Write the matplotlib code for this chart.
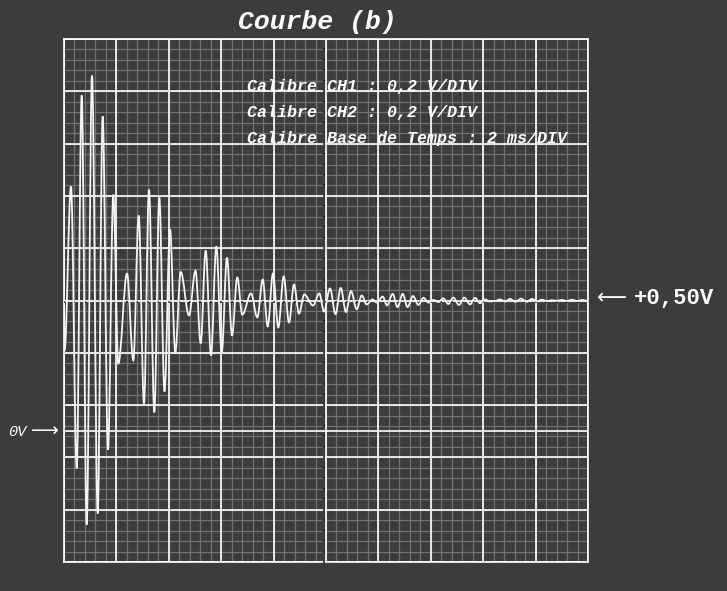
import numpy as np
import matplotlib
matplotlib.use("Agg")
import matplotlib.pyplot as plt
from matplotlib.path import Path
from matplotlib.patches import PathPatch

# turning points of the trace (time in ms, voltage in V)
t_ms = [0.02, 0.267, 0.485, 0.676, 0.866, 1.069, 1.286, 1.477, 1.679, 1.882,
        2.073, 2.405, 2.645, 2.851, 3.053, 3.244, 3.447, 3.637, 3.836, 4.046,
        4.248, 4.454, 4.771, 5.019, 5.218, 5.408, 5.611, 5.813, 6.019, 6.221,
        6.412, 6.615, 6.805, 7.137, 7.378, 7.584, 7.775, 7.977, 8.179, 8.385,
        8.588, 8.779, 8.969, 9.172, 9.504, 9.744, 9.924, 10.153, 10.363, 10.561,
        10.763, 10.954, 11.172, 11.363, 11.553, 11.775, 11.947, 12.164, 12.328, 12.546,
        12.729, 12.927, 13.111, 13.321, 13.523, 13.721, 13.912, 14.103, 14.294, 14.477,
        14.668, 14.859, 15.076, 15.279, 15.496, 15.687, 15.878, 16.069, 16.260, 16.450,
        16.641, 16.832, 17.023, 17.233, 17.443, 17.653, 17.863, 18.053, 18.244, 18.435,
        18.626, 18.817, 19.008, 19.198, 19.389, 19.580, 19.771, 19.981]
u_volts = [0.309, 0.936, -0.142, 1.284, -0.357, 1.360, -0.315, 1.204, -0.070, 0.905,
           0.259, 0.603, 0.271, 0.825, 0.106, 0.924, 0.072, 0.894, 0.152, 0.772,
           0.301, 0.609, 0.443, 0.615, 0.336, 0.691, 0.290, 0.707, 0.301, 0.664,
           0.366, 0.588, 0.446, 0.527, 0.435, 0.580, 0.401, 0.603, 0.397, 0.592,
           0.416, 0.561, 0.450, 0.523, 0.481, 0.527, 0.458, 0.546, 0.448, 0.548,
           0.456, 0.536, 0.467, 0.519, 0.485, 0.504, 0.492, 0.515, 0.481, 0.525,
           0.475, 0.525, 0.475, 0.517, 0.483, 0.510, 0.492, 0.502, 0.494, 0.508,
           0.487, 0.511, 0.483, 0.511, 0.485, 0.510, 0.490, 0.504, 0.496, 0.498,
           0.504, 0.496, 0.506, 0.495, 0.507, 0.495, 0.506, 0.497, 0.503, 0.498,
           0.501, 0.499, 0.502, 0.498, 0.503, 0.498, 0.502, 0.499]

bg = "#3c3c3c"
fig = plt.figure(figsize=(7.27, 5.91), dpi=100, facecolor=bg)
ax = fig.add_axes([64 / 727, 29 / 591, 524 / 727, 523 / 591], facecolor=bg)
ax.set_xlim(0, 20)
ax.set_ylim(-0.5, 1.5)

# screen grid: 10 x 10 divisions, 5 subdivisions each
for x in np.arange(0, 20.01, 0.4):
    ax.axvline(x, color="#727272", lw=0.9, zorder=1)
for y in np.arange(-0.5, 1.51, 0.04):
    ax.axhline(y, color="#727272", lw=0.9, zorder=1)
for x in np.arange(0, 20.01, 2):
    ax.axvline(x, color="white", lw=1.2, zorder=2)
for y in np.arange(-0.5, 1.51, 0.2):
    ax.axhline(y, color="white", lw=1.2, zorder=2)
ax.axhline(0.0, color="white", lw=1.2, zorder=2)

# graduations on the centre lines
ax.plot(np.full(50, 10 - 0.08), np.arange(-0.5, 1.5, 0.04), ls="", marker="_",
        ms=2, mew=1.1, color="#151515", zorder=3)
ax.plot(np.arange(0, 20, 0.4), np.full(50, 0.5 - 0.007), ls="", marker="|",
        ms=1.5, mew=1.1, color="#151515", zorder=3)

# trace: smooth curve through the turning points
verts = [(t_ms[0], u_volts[0])]
codes = [Path.MOVETO]
for i in range(len(t_ms) - 1):
    dt = t_ms[i + 1] - t_ms[i]
    verts += [(t_ms[i] + 0.36 * dt, u_volts[i]),
              (t_ms[i + 1] - 0.36 * dt, u_volts[i + 1]),
              (t_ms[i + 1], u_volts[i + 1])]
    codes += [Path.CURVE4] * 3
ax.add_patch(PathPatch(Path(verts, codes), fill=False, edgecolor="#f4f4f4",
                       lw=1.3, zorder=4))

ax.set_xticks([])
ax.set_yticks([])
for s in ax.spines.values():
    s.set_color("white")
    s.set_linewidth(1.2)

mono = ["Liberation Mono", "DejaVu Sans"]
fig.text(317 / 727, 1 - 22 / 591, "Courbe (b)", family=mono, fontsize=19,
         fontweight="bold", style="italic", color="white", ha="center", va="center")
for i, line in enumerate(["Calibre CH1 : 0,2 V/DIV",
                          "Calibre CH2 : 0,2 V/DIV",
                          "Calibre Base de Temps : 2 ms/DIV"]):
    fig.text(247 / 727, 1 - (86 + 26.5 * i) / 591, line, family=mono, fontsize=12,
             fontweight="bold", style="italic", color="white", ha="left", va="center")

fig.text(597 / 727, 1 - 298 / 591, "\u27f5", family="DejaVu Sans", fontsize=15,
         color="white", ha="left", va="center")
fig.text(634 / 727, 1 - 298 / 591, "+0,50V", family=mono, fontsize=16,
         fontweight="bold", color="white", ha="left", va="center")
fig.text(8 / 727, 1 - 432 / 591, "0V", family=mono, fontsize=11,
         style="italic", color="white", ha="left", va="center")
fig.text(31 / 727, 1 - 431 / 591, "\u27f6", family="DejaVu Sans", fontsize=14,
         color="white", ha="left", va="center")

fig.savefig("out.png", dpi=100, facecolor=bg)
